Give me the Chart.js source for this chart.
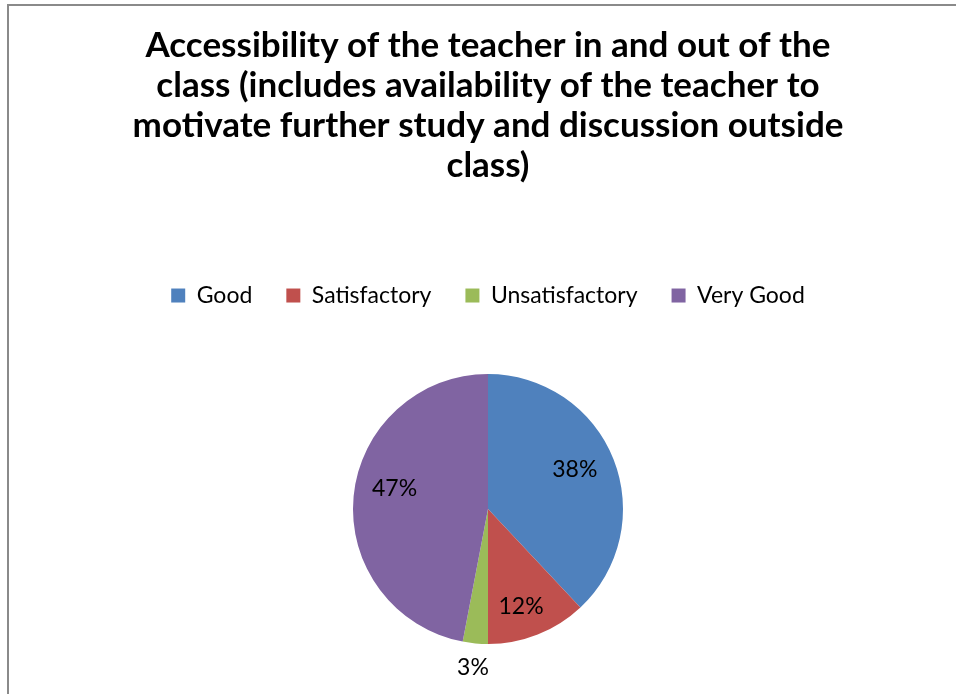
<!DOCTYPE html>
<html>
<head>
<meta charset="utf-8">
<title>Accessibility of the teacher</title>
<script src="https://cdn.jsdelivr.net/npm/chart.js@4.4.1/dist/chart.umd.min.js"></script>
<style>
  html, body { margin: 0; padding: 0; background: #fff; overflow: hidden; }
  #wrap { position: absolute; left: 0; top: 0; width: 956px; height: 694px; }
  #frame {
    position: absolute; left: 7px; top: 4px; right: 0; bottom: 0;
    border-left: 2px solid #8a8a8a; border-top: 2px solid #8a8a8a;
    pointer-events: none;
  }
</style>
</head>
<body>
<div id="wrap">
  <canvas id="pieChart" width="956" height="694"></canvas>
</div>
<div id="frame"></div>

<script>
// chart data
const titleLines = [
  'Accessibility of the teacher in and out of the',
  'class (includes availability of the teacher to',
  'motivate further study and discussion outside',
  'class)'
];
const categories = ['Good', 'Satisfactory', 'Unsatisfactory', 'Very Good'];
const percents = [38, 12, 3, 47];
const sliceColors = ['#4F81BD', '#C0504D', '#9BBB59', '#8064A2'];

// where each % label sits: [fraction of radius, angle nudge in degrees]
const labelPlace = [[0.705, -2.6], [0.764, 2.9], [1.18, 0], [0.708, 6.7]];

window.addEventListener('DOMContentLoaded', () => {

  // push the pie down below the legend
  const legendGap = {
    id: 'legendGap',
    beforeInit(chart) {
      const fit = chart.legend.fit;
      chart.legend.fit = function () {
        fit.bind(chart.legend)();
        this.height += 57;
      };
    }
  };

  // percentage labels on the slices
  const pctLabels = {
    id: 'pctLabels',
    afterDatasetsDraw(chart) {
      const ctx = chart.ctx;
      const meta = chart.getDatasetMeta(0);
      ctx.save();
      ctx.font = '23px Lato';
      ctx.fillStyle = '#000';
      ctx.textAlign = 'center';
      ctx.textBaseline = 'middle';
      meta.data.forEach((arc, i) => {
        const mid = (arc.startAngle + arc.endAngle) / 2 + labelPlace[i][1] * Math.PI / 180;
        const r = arc.outerRadius * labelPlace[i][0];
        ctx.fillText(percents[i] + '%', arc.x + Math.cos(mid) * r, arc.y + Math.sin(mid) * r);
      });
      ctx.restore();
    }
  };

  const ctx = document.getElementById('pieChart').getContext('2d');

  new Chart(ctx, {
    type: 'pie',
    data: {
      labels: categories,
      datasets: [{
        data: percents,
        backgroundColor: sliceColors,
        borderWidth: 0
      }]
    },
    options: {
      responsive: false,
      animation: false,
      layout: { padding: { top: 0, left: 20, right: 0, bottom: 50 } },
      plugins: {
        title: {
          display: true,
          text: titleLines,
          color: '#000',
          font: { family: 'Lato', size: 35, weight: 'bold', lineHeight: 1.143 },
          padding: { top: 26, bottom: 64 }
        },
        legend: {
          position: 'top',
          labels: {
            color: '#000',
            font: { family: 'Lato', size: 23 },
            boxWidth: 14,
            boxHeight: 14,
            padding: 34
          }
        },
        tooltip: { enabled: false }
      }
    },
    plugins: [legendGap, pctLabels]
  });
});
</script>
</body>
</html>
